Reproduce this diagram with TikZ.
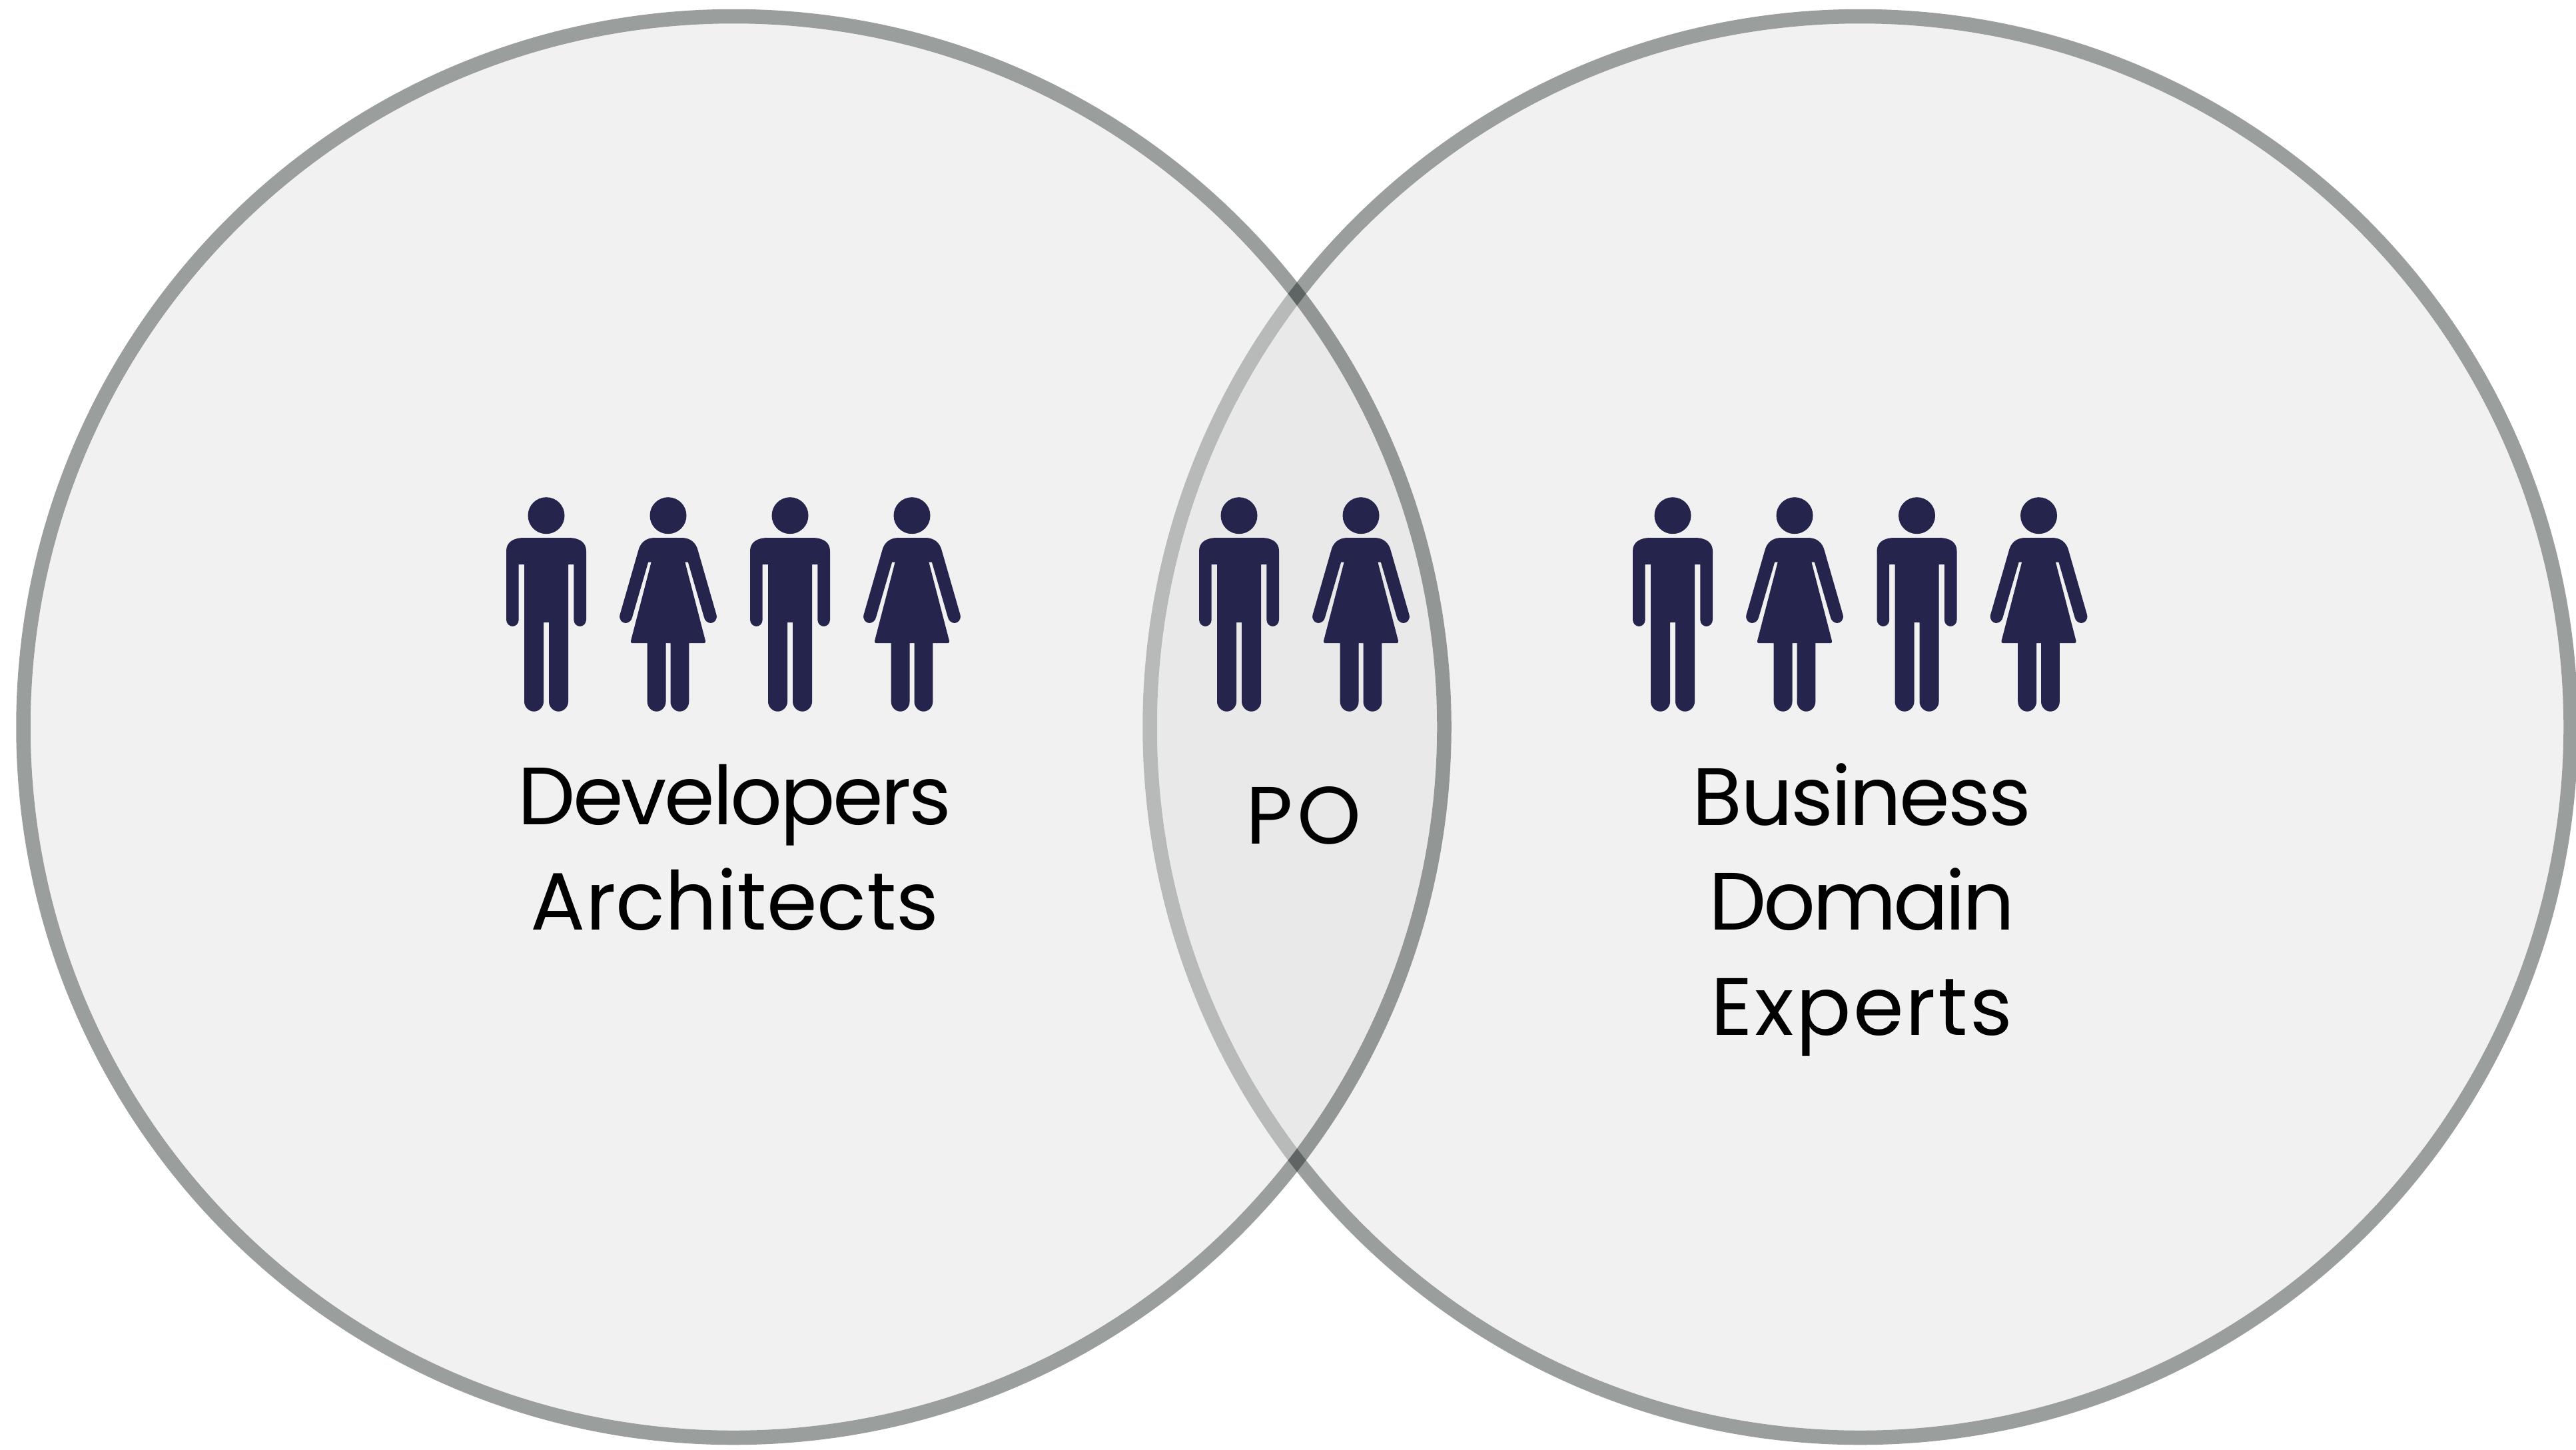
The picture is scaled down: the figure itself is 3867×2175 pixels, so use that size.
\documentclass[tikz,border=0pt]{standalone}
\usepackage{fontspec}
\setmainfont{Poppins}
\definecolor{ringgray}{HTML}{0C1614}
\definecolor{bubblegray}{HTML}{DFDFDF}
\definecolor{peoplenavy}{HTML}{24244C}
\newcommand{\tracked}[2]{{\addfontfeature{LetterSpace=#1}#2}}
\tikzset{
    bubble/.style={fill=bubblegray, fill opacity=0.43},
    ring/.style={draw=ringgray, draw opacity=0.416, line width=21.5*0.01cm},
    label/.style={inner sep=0, align=center, text=black, font=\fontsize{34.7}{44.7}\selectfont},
    man/.pic={
        \fill[peoplenavy] (0, 27.7) circle (27.5);
        \fill[peoplenavy] (-33, 61) -- (33, 61) .. controls (50, 61) and (60, 68) .. (60, 81) -- (60, 184)
            .. controls (60, 190) and (55, 194) .. (50.6, 194) .. controls (46, 194) and (41.3, 190) .. (41.3, 184)
            -- (41.3, 101) -- (33, 101) -- (33, 307) .. controls (33, 315) and (26, 321.7) .. (18.5, 321.7)
            .. controls (11, 321.7) and (4, 315) .. (4, 307) -- (4, 188) -- (-4, 188) -- (-4, 307)
            .. controls (-4, 315) and (-11, 321.7) .. (-18.5, 321.7) .. controls (-26, 321.7) and (-33, 315) .. (-33, 307)
            -- (-33, 101) -- (-41.3, 101) -- (-41.3, 184) .. controls (-41.3, 190) and (-46, 194) .. (-50.6, 194)
            .. controls (-55, 194) and (-60, 190) .. (-60, 184) -- (-60, 81) .. controls (-60, 68) and (-50, 61) .. (-33, 61) -- cycle;
    },
    woman/.pic={
        \fill[peoplenavy] (0, 27.7) circle (27.5);
        \fill[peoplenavy] (-20, 61) -- (20, 61) .. controls (33, 61) and (42, 68) .. (45, 81) -- (72.6, 177)
            .. controls (74, 184) and (69, 189) .. (64, 189) .. controls (59, 189) and (55, 185) .. (54, 180.7)
            -- (29.9, 97.7) -- (25.4, 97.7) -- (56, 215.7) .. controls (56.5, 218) and (55.5, 219) .. (54, 219)
            -- (31.3, 219) -- (31.3, 307) .. controls (31.3, 315) and (25, 321.7) .. (17.4, 321.7)
            .. controls (10, 321.7) and (3.5, 315) .. (3.5, 307) -- (3.5, 219) -- (-3.5, 219) -- (-3.5, 307)
            .. controls (-3.5, 315) and (-10, 321.7) .. (-17.4, 321.7) .. controls (-25, 321.7) and (-31.3, 315) .. (-31.3, 307)
            -- (-31.3, 219) -- (-54, 219) .. controls (-55.5, 219) and (-56.5, 218) .. (-56, 215.7) -- (-25.4, 97.7)
            -- (-29.9, 97.7) -- (-54, 180.7) .. controls (-55, 185) and (-59, 189) .. (-64, 189)
            .. controls (-69, 189) and (-74, 184) .. (-72.6, 177) -- (-45, 81) .. controls (-42, 68) and (-33, 61) .. (-20, 61) -- cycle;
    },
}

\begin{document}
\begin{tikzpicture}[x=0.01cm, y=-0.01cm]
    \useasboundingbox (0, 0) rectangle (3867, 2175);
    \coordinate (LC) at (1101.5, 1091);
    \coordinate (RC) at (2792.5, 1091);

    % right one goes first, the left one lies over it
    \fill[bubble] (RC) circle (1056);
    \draw[ring] (RC) circle (1066.5);
    \fill[bubble] (LC) circle (1056);
    \draw[ring] (LC) circle (1066.5);

    % developers
    \pic at (820, 746) {man};
    \pic at (1003, 746) {woman};
    \pic at (1186, 746) {man};
    \pic at (1369, 746) {woman};

    % po
    \pic at (1860, 746) {man};
    \pic at (2043, 746) {woman};

    % business
    \pic at (2511, 746) {man};
    \pic at (2694, 746) {woman};
    \pic at (2877.5, 746) {man};
    \pic at (3060.5, 746) {woman};

    \node[label, anchor=base] (devs) at (1103, 1395) {\tracked{-2.8}{Developers}\\Architects};
    \node[label, anchor=base] (po) at (1957, 1266) {\tracked{6}{PO}};
    \node[label, anchor=base] (biz) at (2795, 1553) {\tracked{-2.3}{Business}\\\tracked{-3.6}{Domain}\\\tracked{2.7}{Experts}};
\end{tikzpicture}
\end{document}
